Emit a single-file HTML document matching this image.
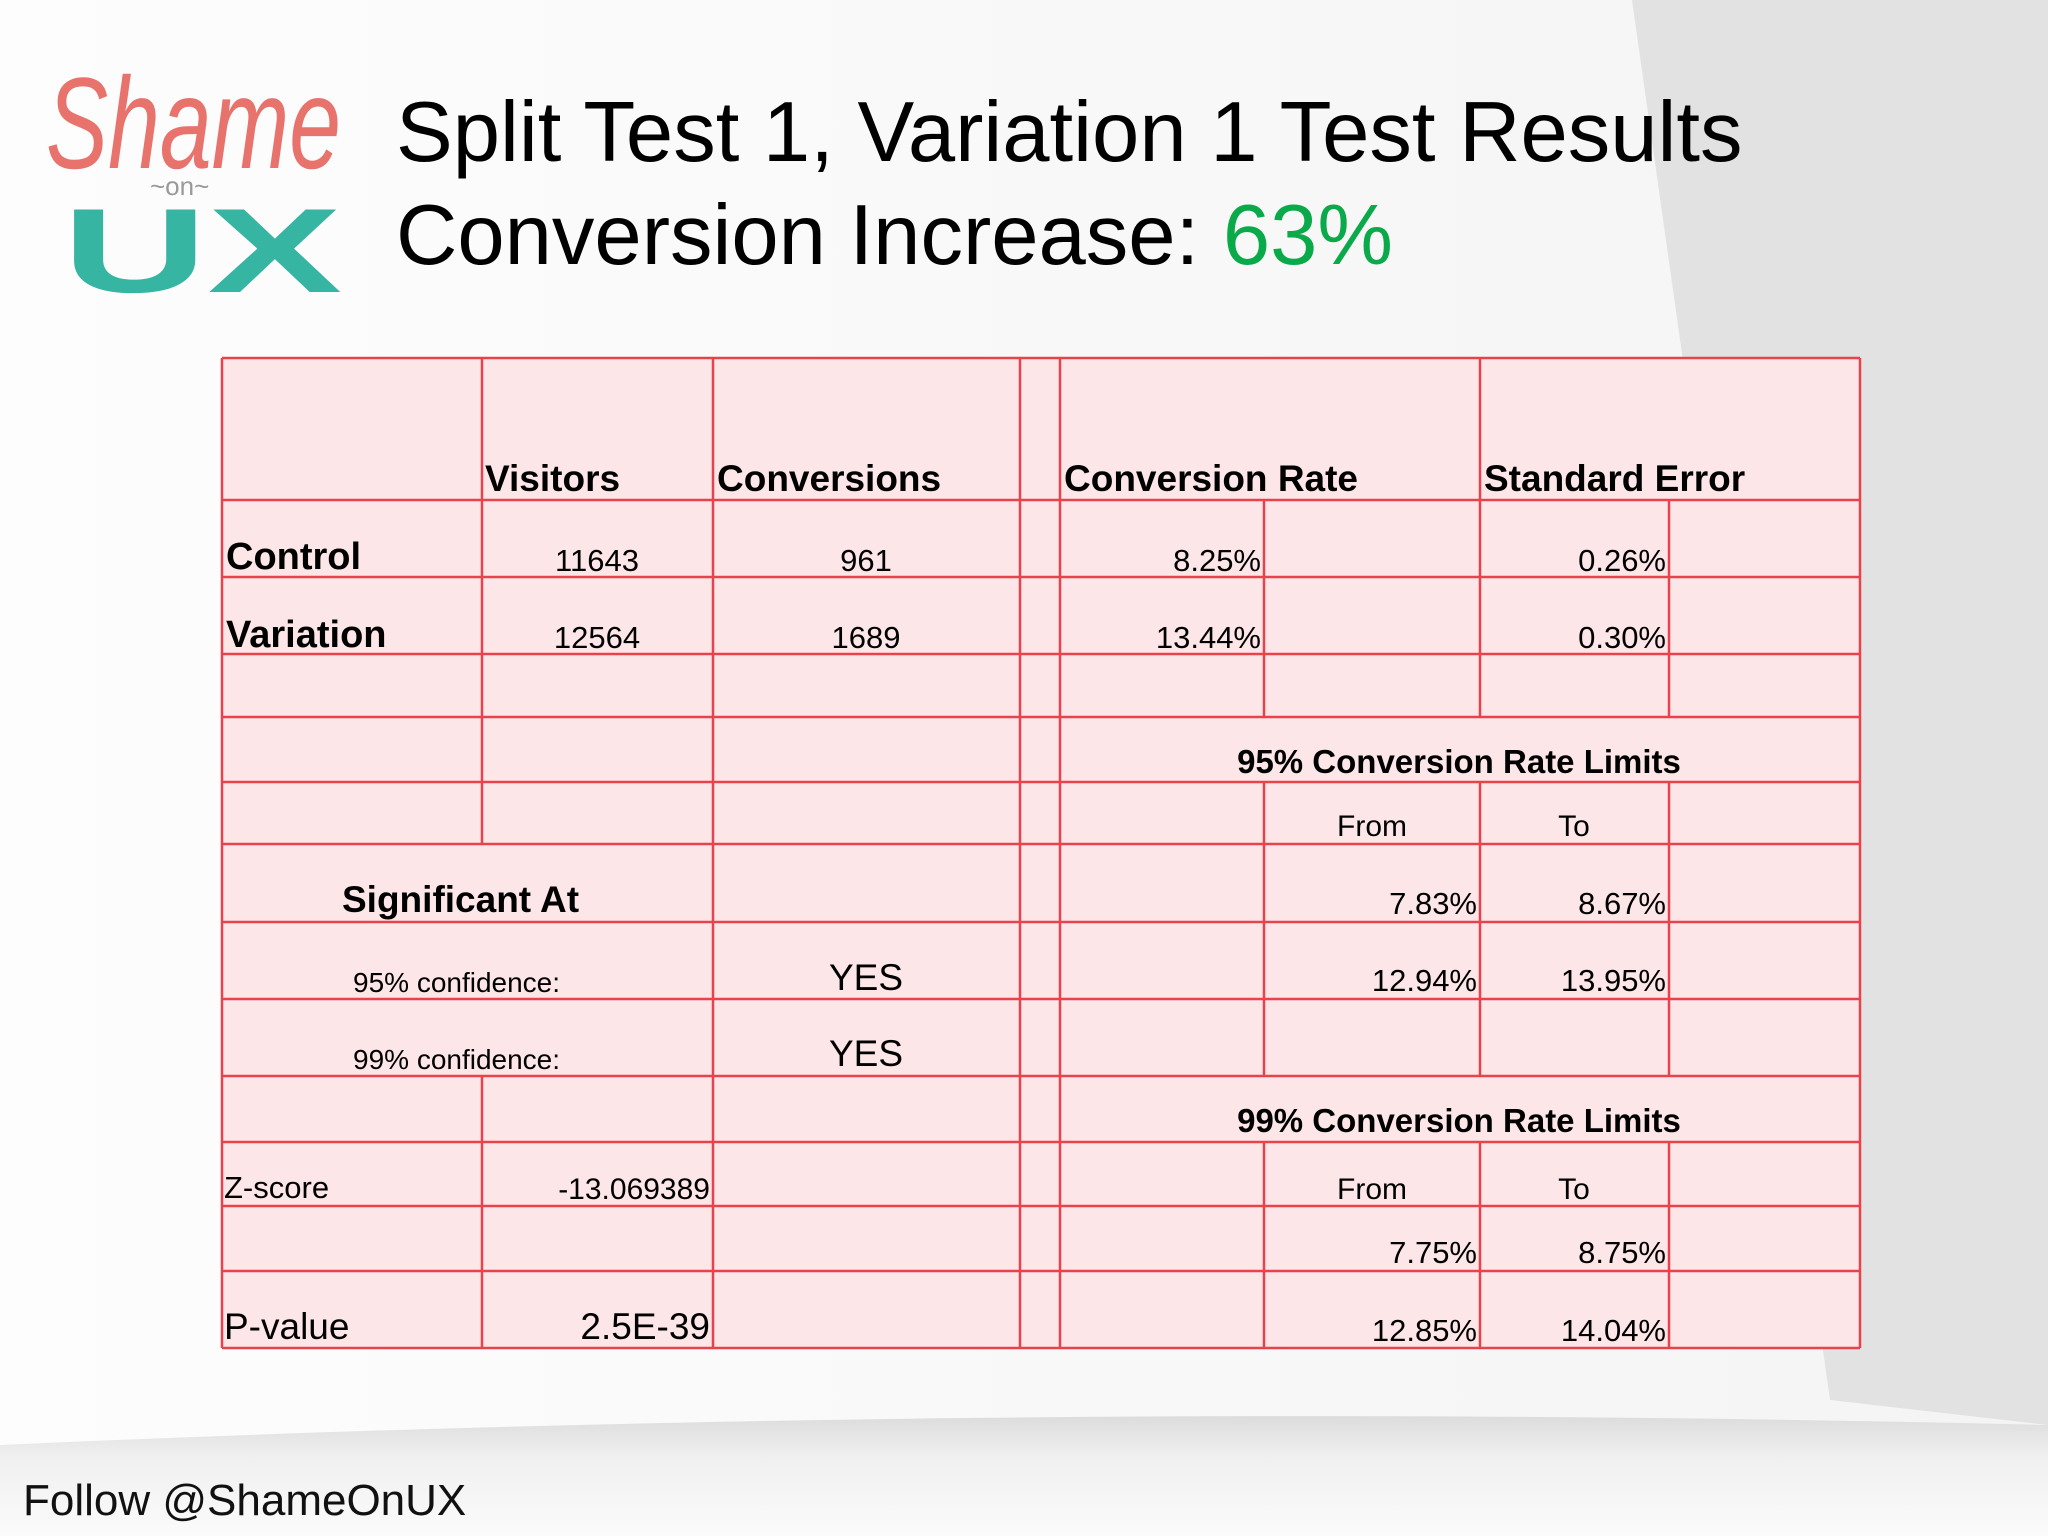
<!DOCTYPE html>
<html><head><meta charset="utf-8"><style>
html,body{margin:0;padding:0;background:#fff}
svg{display:block}
text{font-family:"Liberation Sans",sans-serif}
</style></head><body>
<svg id="s" width="2048" height="1536" viewBox="0 0 2048 1536">
<defs>
<linearGradient id="bg" x1="0" y1="0" x2="1" y2="0"><stop offset="0" stop-color="#fdfdfd"/><stop offset="1" stop-color="#f4f4f4"/></linearGradient>
<linearGradient id="bb" x1="0" y1="0" x2="0" y2="1"><stop offset="0" stop-color="#dcdcdc"/><stop offset="0.35" stop-color="#f0f0f0"/><stop offset="1" stop-color="#fbfbfb"/></linearGradient>
</defs>
<rect width="2048" height="1536" fill="url(#bg)"/>
<polygon points="1632,0 2048,0 2048,1425 1830,1400" fill="#e2e2e2"/>
<path d="M0,1445 Q1000,1400 2048,1425 L2048,1536 L0,1536 Z" fill="url(#bb)"/>
<g>
<text x="46" y="168" font-family="Liberation Serif,serif" font-style="italic" font-size="130" fill="#e8736c" textLength="295" lengthAdjust="spacingAndGlyphs">Shame</text>
<text x="150" y="195" font-family="Liberation Serif,serif" font-size="26" fill="#999">~on~</text>
<text x="62" y="292" font-family="Liberation Sans,sans-serif" font-weight="bold" font-size="120" fill="#35b5a2" textLength="280" lengthAdjust="spacingAndGlyphs">UX</text>
</g>
<text x="396" y="161" font-size="85" fill="#000">Split Test 1, Variation 1 Test Results</text>
<text x="396" y="264" font-size="85" fill="#000">Conversion Increase: <tspan fill="#0aaa4a">63%</tspan></text>
<g id="tbl"></g>
<text x="23" y="1515" font-size="44" fill="#111">Follow @ShameOnUX</text>
</svg>
<script>
const colX=[222,482,713,1020,1060,1264,1480,1669,1860];
const rowY=[358,500,577,654,717,782,844,922,999,1076,1142,1206,1271,1348];
const NS="http://www.w3.org/2000/svg";
const g=document.getElementById('tbl');
function mk(tag,at){const e=document.createElementNS(NS,tag);for(const k in at)e.setAttribute(k,at[k]);g.appendChild(e);return e;}
const bgr=mk('rect',{x:colX[0],y:rowY[0],width:colX[8]-colX[0],height:rowY[13]-rowY[0],fill:'#fde6e8'});


rowY.forEach(y=>{const l=mk('line',{x1:colX[0],x2:colX[8],y1:y,y2:y,stroke:'#e8424c','stroke-width':2.5});

});
const vlines=[[0,0,13],[1,0,6],[1,9,13],[2,0,13],[3,0,13],[4,0,13],[5,1,4],[5,5,9],[5,10,13],[6,0,4],[6,5,9],[6,10,13],[7,1,4],[7,5,9],[7,10,13],[8,0,13]];
vlines.forEach(v=>{const l=mk('line',{x1:colX[v[0]],x2:colX[v[0]],y1:rowY[v[1]],y2:rowY[v[2]],stroke:'#e8424c','stroke-width':2.5});

});
const cells=[
['Visitors',485,491,'start',37,1,'header-visitors'],
['Conversions',717,491,'start',37,1,'header-conversions'],
['Conversion Rate',1064,491,'start',37,1,'header-conversion-rate'],
['Standard Error',1484,491,'start',37,1,'header-standard-error'],
['Control',226,569,'start',38,1,'label-control'],
['11643',597,571,'middle',31,0,'control-visitors'],
['961',866,571,'middle',31,0,'control-conversions'],
['8.25%',1261,571,'end',31,0,'control-rate'],
['0.26%',1666,571,'end',31,0,'control-se'],
['Variation',226,647,'start',38,1,'label-variation'],
['12564',597,648,'middle',31,0,'variation-visitors'],
['1689',866,648,'middle',31,0,'variation-conversions'],
['13.44%',1261,648,'end',31,0,'variation-rate'],
['0.30%',1666,648,'end',31,0,'variation-se'],
['95% Conversion Rate Limits',1459,773,'middle',33,1,'limits-95-title'],
['From',1372,836,'middle',30,0,'limits-95-from'],
['To',1574,836,'middle',30,0,'limits-95-to'],
['Significant At',342,912,'start',37,1,'label-significant-at'],
['7.83%',1477,914,'end',31,0,'limit95-control-from'],
['8.67%',1666,914,'end',31,0,'limit95-control-to'],
['95% confidence:',353,992,'start',28,0,'label-95-confidence'],
['YES',866,990,'middle',37,0,'yes-95'],
['12.94%',1477,991,'end',31,0,'limit95-variation-from'],
['13.95%',1666,991,'end',31,0,'limit95-variation-to'],
['99% confidence:',353,1069,'start',28,0,'label-99-confidence'],
['YES',866,1066,'middle',37,0,'yes-99'],
['99% Conversion Rate Limits',1459,1132,'middle',33,1,'limits-99-title'],
['Z-score',224,1198,'start',31,0,'label-z-score'],
['-13.069389',710,1199,'end',30,0,'z-score-value'],
['From',1372,1199,'middle',30,0,'limits-99-from'],
['To',1574,1199,'middle',30,0,'limits-99-to'],
['7.75%',1477,1263,'end',31,0,'limit99-control-from'],
['8.75%',1666,1263,'end',31,0,'limit99-control-to'],
['P-value',224,1339,'start',37,0,'label-p-value'],
['2.5E-39',710,1339,'end',37,0,'p-value'],
['12.85%',1477,1341,'end',31,0,'limit99-variation-from'],
['14.04%',1666,1341,'end',31,0,'limit99-variation-to']];
cells.forEach(c=>{const t=mk('text',{x:c[1],y:c[2],'text-anchor':c[3],'font-size':c[4],'font-weight':c[5]?'bold':'normal',fill:'#000'});
t.textContent=c[0];

});
</script>
</body></html>
